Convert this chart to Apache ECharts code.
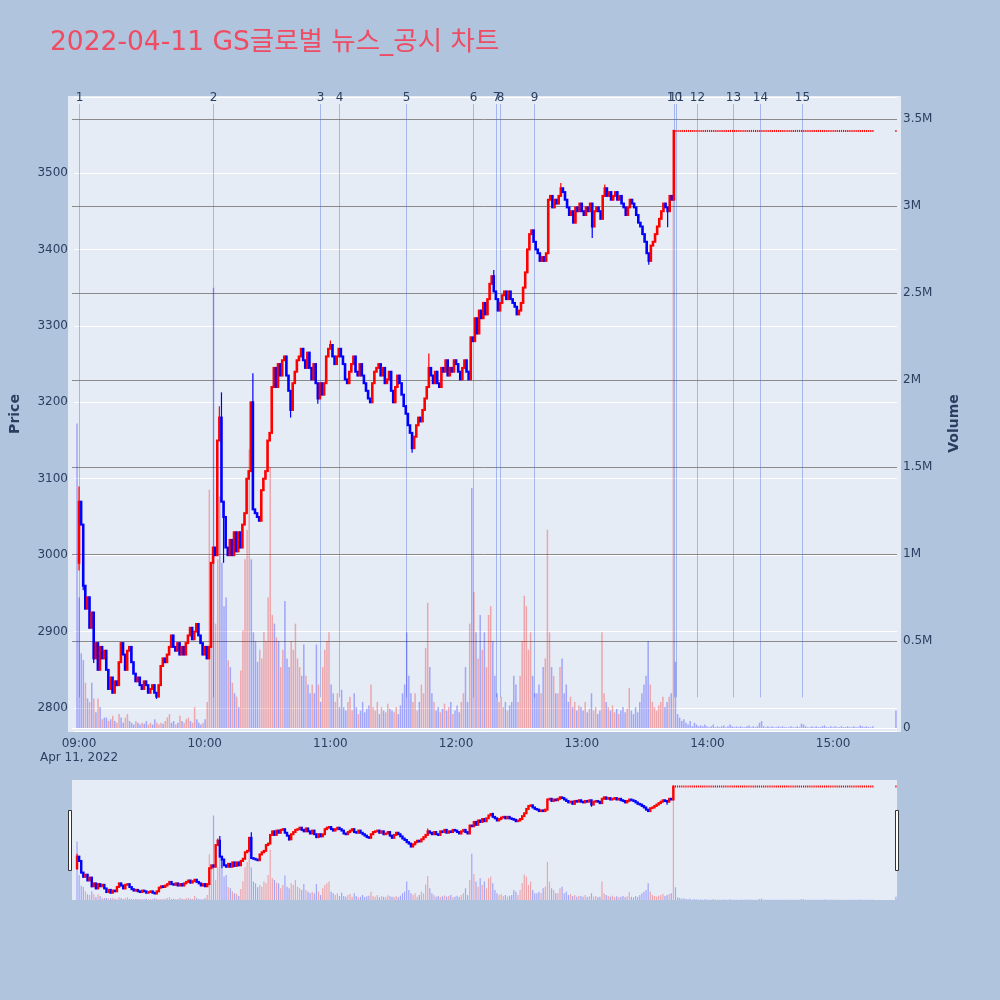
<!DOCTYPE html>
<html><head><meta charset="utf-8">
<script src="https://cdn.jsdelivr.net/npm/echarts/dist/echarts.min.js"></script>
<style>html,body{margin:0;padding:0;background:#B0C4DE}#main{width:1000px;height:1000px}</style>
</head><body><div id="main"></div>
<script>
// ---------------- DATA ----------------
const TITLE = '2022-04-11 GS글로벌 뉴스_공시 차트';
const DATE_LABEL = 'Apr 11, 2022';
const START_TIME = '09:00';           // index 0 of the per-minute arrays
const PREV_CLOSE = 3095;              // previous day's close (for the first volume bar colour)
const FIRST_OPEN = 2990;
// per-minute closing prices from 09:00 (null = no trade)
const closes = [
3070,3040,2960,2930,2945,2905,2925,2865,2885,2850,
2880,2865,2875,2850,2825,2840,2820,2835,2830,2860,
2885,2870,2850,2875,2880,2860,2845,2835,2840,2830,
2825,2835,2830,2820,2825,2830,2820,2815,2830,2855,
2865,2860,2870,2880,2895,2880,2875,2885,2870,2880,
2870,2885,2895,2905,2890,2900,2910,2895,2885,2870,
2880,2865,2880,2990,3010,3000,3150,3180,3070,3050,
3010,3000,3020,3000,3030,3005,3030,3010,3040,3055,
3100,3110,3200,3060,3055,3050,3045,3085,3100,3110,
3150,3160,3220,3245,3220,3250,3235,3255,3260,3235,
3215,3190,3225,3240,3255,3260,3270,3255,3245,3265,
3245,3230,3250,3225,3205,3225,3210,3225,3260,3270,
3275,3260,3250,3260,3270,3260,3250,3230,3225,3240,
3250,3260,3240,3235,3250,3235,3225,3215,3205,3200,
3225,3240,3245,3250,3235,3245,3225,3230,3240,3215,
3200,3220,3235,3225,3210,3195,3185,3170,3160,3140,
3155,3170,3180,3175,3190,3205,3220,3245,3235,3225,
3240,3225,3220,3245,3240,3255,3235,3245,3240,3255,
3250,3240,3230,3245,3255,3240,3230,3285,3280,3310,
3290,3320,3310,3330,3315,3335,3355,3365,3345,3335,
3320,3330,3340,3345,3335,3345,3335,3330,3325,3315,
3320,3330,3350,3370,3400,3420,3425,3410,3400,3395,
3385,3390,3385,3395,3465,3470,3455,3465,3460,3470,
3480,3475,3465,3455,3445,3450,3435,3455,3450,3460,
3450,3445,3455,3450,3460,3430,3450,3455,3450,3440,
3470,3480,3470,3475,3465,3470,3475,3465,3470,3460,
3455,3445,3455,3465,3460,3455,3445,3435,3430,3420,
3410,3395,3385,3405,3410,3420,3430,3440,3450,3460,
3455,3450,3470,3465,3555,3555,3555,3555,3555,3555,
3555,3555,3555,3555,3555,3555,3555,3555,3555,3555,
3555,3555,3555,3555,3555,3555,3555,3555,3555,3555,
3555,3555,3555,3555,3555,3555,3555,3555,3555,3555,
3555,3555,3555,3555,3555,3555,3555,3555,3555,3555,
3555,3555,3555,3555,3555,3555,3555,3555,3555,3555,
3555,3555,3555,3555,3555,3555,3555,3555,3555,3555,
3555,3555,3555,3555,3555,3555,3555,3555,3555,3555,
3555,3555,3555,3555,3555,3555,3555,3555,3555,3555,
3555,3555,3555,3555,3555,3555,3555,3555,3555,3555,
null,null,null,null,null,null,null,null,null,null,
3555
];
// extra wick extremes (minute index -> price)
const highs = {0:3090, 67:3195, 68:3213, 83:3238, 120:3281, 167:3264, 198:3373, 230:3487, 251:3485};
const lows  = {0:2980, 2:2954, 7:2859, 37:2812, 69:2990, 101:3180, 114:3198, 159:3134, 245:3415, 272:3380, 281:3429};
// per-minute volume, thousand shares
const volumesK = [
1750,750,430,390,260,170,150,260,170,90,
170,120,50,60,60,40,50,70,40,30,
80,60,30,60,80,40,30,20,40,30,
20,30,25,40,20,30,20,50,30,20,
30,25,40,60,80,30,40,20,30,70,
40,30,50,60,40,30,120,50,30,20,
30,50,150,1370,950,2530,600,970,1330,950,
700,750,390,350,260,200,180,120,330,560,
970,1140,1600,970,550,500,380,450,400,550,
500,750,1500,650,600,520,500,350,450,730,
400,350,500,450,600,400,350,300,480,300,
250,200,250,200,480,250,150,350,450,500,
550,250,200,150,200,120,220,120,100,150,
180,100,200,120,80,100,150,90,110,130,
250,120,100,150,80,120,100,90,140,110,
100,90,120,80,130,200,250,550,300,200,
150,200,100,150,250,200,460,720,350,200,
150,100,120,90,110,140,100,120,150,80,
100,130,90,150,200,350,150,600,1380,780,
550,400,650,450,550,350,650,700,500,300,
200,150,180,120,150,100,130,150,300,250,
150,300,500,760,700,450,550,300,200,200,
250,200,350,400,1140,550,350,300,200,200,
350,400,200,250,150,180,120,150,100,130,
120,100,150,90,110,200,100,120,80,100,
550,200,150,120,100,130,90,110,80,100,
120,90,110,230,100,80,120,90,150,200,
250,300,500,250,150,120,100,130,150,180,
120,150,180,200,3440,380,80,60,40,50,
30,20,40,10,30,20,10,15,10,20,
10,5,10,20,5,10,5,10,15,5,
10,20,10,5,10,5,10,5,5,10,
15,5,10,5,10,30,40,10,5,10,
5,10,5,5,10,5,10,5,5,5,
10,5,5,10,5,25,20,10,5,5,
10,5,10,5,5,10,15,5,5,10,
5,10,5,5,10,5,5,10,5,5,
10,5,5,15,10,5,10,5,5,10,
null,null,null,null,null,null,null,null,null,null,
100
];
const newsLabels = ['1','2','3','4','5','6','7','8','9','10','11','12','13','14','15'];
const newsTimes  = ['09:00','10:04','10:55','11:04','11:36','12:08','12:19','12:21','12:37','13:44','13:45','13:55','14:12','14:25','14:45'];
const timeTickLabels = ['09:00','10:00','11:00','12:00','13:00','14:00','15:00'];

// ---------------- STYLE ----------------
const FONT = '"DejaVu Sans", "Noto Sans CJK KR", sans-serif';
const TXT = '#2a3f5f';
const UP = '#FF0000', DOWN = '#0000FF';
const UP_VOL = 'rgba(255,0,0,0.3)', DOWN_VOL = 'rgba(0,0,255,0.3)';
const X_MIN = -2.4, X_MAX = 390.5;
const NEWS_LINE_BOTTOM_PRICE = 2814;
const VOL_GRID_COLORS = ['#FFFFFF','#8a8a8a','#8a8a8a','#8a8a8a','#8a8a8a','#8a8a8a','#8a8a8a','#8a8a8a'];

function toMin(t){const p=t.split(':').map(Number);const s=START_TIME.split(':').map(Number);return (p[0]-s[0])*60+(p[1]-s[1]);}
function minToLabel(m){const s=START_TIME.split(':').map(Number);const t=s[0]*60+s[1]+m;const h=Math.floor(t/60),mm=t%60;return String(h).padStart(2,'0')+':'+String(mm).padStart(2,'0');}

const candleData=[], volumeData=[];
let prev=null;
closes.forEach((c,i)=>{
  if(c==null) return;
  const o = prev==null ? FIRST_OPEN : prev;
  const h = Math.max(o,c, highs[i]!=null?highs[i]:-Infinity);
  const l = Math.min(o,c, lows[i]!=null?lows[i]:Infinity);
  candleData.push([i,o,c,l,h]);
  const ref = prev==null ? PREV_CLOSE : prev;
  volumeData.push({value:[i, volumesK[i]*1000], itemStyle:{color: c>ref ? UP_VOL : DOWN_VOL}});
  prev=c;
});
const newsData = newsTimes.map((t,i)=>[toMin(t), newsLabels[i]]);

// candle drawn through the axes' scales (body + wick)
function candleRender(bodyW, dojiW){
  return (params, api)=>{
    const i=api.value(0), o=api.value(1), c=api.value(2), l=api.value(3), h=api.value(4);
    const po=api.coord([i,o]), pc=api.coord([i,c]), pl=api.coord([i,l]), ph=api.coord([i,h]);
    const x=po[0];
    const color = c<o ? DOWN : UP;
    if (o===c && l===h) {
      return {type:'rect', shape:{x:x-dojiW/2, y:po[1]-1, width:dojiW, height:2}, style:{fill:color}};
    }
    const top=Math.min(po[1],pc[1]), bot=Math.max(po[1],pc[1]);
    return {type:'group', children:[
      {type:'line', shape:{x1:x, y1:ph[1], x2:x, y2:pl[1]}, style:{stroke:color, lineWidth:1.2}},
      {type:'rect', shape:{x:x-bodyW/2, y:top-1, width:bodyW, height:(bot-top)+2}, style:{fill:color}}
    ]};
  };
}

const GRID_L=72, GRID_R=103;
const xBase = {type:'value', min:X_MIN, max:X_MAX, minInterval:60, maxInterval:60,
  axisLine:{show:false}, axisTick:{show:false}, splitLine:{show:false}};

const option = {
  backgroundColor:'#B0C4DE',
  animation:false,
  textStyle:{fontFamily:FONT},
  title:{text:TITLE, left:45, top:25, textStyle:{color:'#EF4B62', fontSize:26.5, fontWeight:'normal', fontFamily:FONT}},
  graphic:[
    {type:'rect', z:-10, silent:true, shape:{x:68,y:96,width:833,height:636}, style:{fill:'#E5ECF6'}},
    {type:'rect', z:-10, silent:true, shape:{x:72,y:780,width:825,height:120}, style:{fill:'#E5ECF6'}},
    {type:'rect', z:50, silent:true, shape:{x:68.5,y:810.5,width:3,height:60}, style:{fill:'#fff', stroke:'#333', lineWidth:1}},
    {type:'rect', z:50, silent:true, shape:{x:895.5,y:810.5,width:3,height:60}, style:{fill:'#fff', stroke:'#333', lineWidth:1}}
  ],
  grid:[
    {left:GRID_L, right:GRID_R, top:97, bottom:269},
    {left:GRID_L, right:GRID_R, top:119, bottom:272},
    {left:GRID_L, right:GRID_R, top:780, bottom:100}
  ],
  xAxis:[
    Object.assign({}, xBase, {gridIndex:0, axisLabel:{color:TXT, fontSize:12, margin:6, lineHeight:14, fontFamily:FONT,
      formatter:(v)=>{ if(Math.abs(v%60)>1e-6) return ''; const lab=minToLabel(v); if(timeTickLabels.indexOf(lab)<0) return ''; return v===0 ? lab+'\n'+DATE_LABEL : lab; }}}),
    Object.assign({}, xBase, {gridIndex:1, axisLabel:{show:false}}),
    Object.assign({}, xBase, {gridIndex:2, axisLabel:{show:false}})
  ],
  yAxis:[
    {type:'value', gridIndex:0, min:2770, max:3599.4, minInterval:100, maxInterval:100, position:'left',
     name:'Price', nameLocation:'middle', nameGap:52, nameTextStyle:{color:TXT, fontSize:14, fontWeight:'bold', fontFamily:FONT},
     axisLine:{show:false}, axisTick:{show:false},
     axisLabel:{color:TXT, fontSize:12, margin:6, fontFamily:FONT, formatter:(v)=> (Math.abs(v%100)<1e-6 ? String(v) : '')},
     splitLine:{lineStyle:{color:'#FFFFFF', width:1}}},
    {type:'value', gridIndex:1, min:0, max:3500000, interval:500000, position:'right',
     name:'Volume', nameLocation:'middle', nameGap:50, nameTextStyle:{color:TXT, fontSize:14, fontWeight:'bold', fontFamily:FONT},
     axisLine:{show:false}, axisTick:{show:false},
     axisLabel:{color:TXT, fontSize:12, margin:6, fontFamily:FONT, formatter:(v)=> v===0 ? '0' : (v/1e6)+'M'},
     splitLine:{lineStyle:{color:VOL_GRID_COLORS, width:1}}},
    {type:'value', gridIndex:2, min:2770, max:3600, show:false, splitLine:{show:false}},
    {type:'value', gridIndex:2, min:0, max:3590000, show:false, splitLine:{show:false}}
  ],
  series:[
    {type:'custom', name:'news', xAxisIndex:0, yAxisIndex:0, z:1, silent:true, data:newsData, clip:false,
     renderItem:(params, api)=>{
       const cs = params.coordSys;
       const x = Math.round(api.coord([api.value(0), 3000])[0]) + 0.5;
       const yb = api.coord([api.value(0), NEWS_LINE_BOTTOM_PRICE])[1];
       return {type:'group', children:[
         {type:'line', shape:{x1:x, y1:cs.y+7, x2:x, y2:yb}, style:{stroke:'rgba(65,105,225,0.4)', lineWidth:1}},
         {type:'text', x:x, y:cs.y+0.5, style:{text:newsLabels[params.dataIndex], fill:TXT, font:'12px '+FONT, align:'center', verticalAlign:'middle'}}
       ]};
     }},
    {type:'bar', name:'Volume', xAxisIndex:1, yAxisIndex:1, data:volumeData, barWidth:1.5, z:1, silent:true},
    {type:'custom', name:'Price', xAxisIndex:0, yAxisIndex:0, data:candleData, encode:{x:0, y:[1,2,3,4]},
     renderItem:candleRender(2.6, 1.2), z:3, silent:true},
    {type:'bar', xAxisIndex:2, yAxisIndex:3, data:volumeData, barWidth:1.2, z:1, silent:true},
    {type:'custom', xAxisIndex:2, yAxisIndex:2, data:candleData, encode:{x:0, y:[1,2,3,4]},
     renderItem:candleRender(2.4, 1.2), z:3, silent:true}
  ]
};
echarts.init(document.getElementById('main'), null, {renderer:'canvas'}).setOption(option);
</script></body></html>
